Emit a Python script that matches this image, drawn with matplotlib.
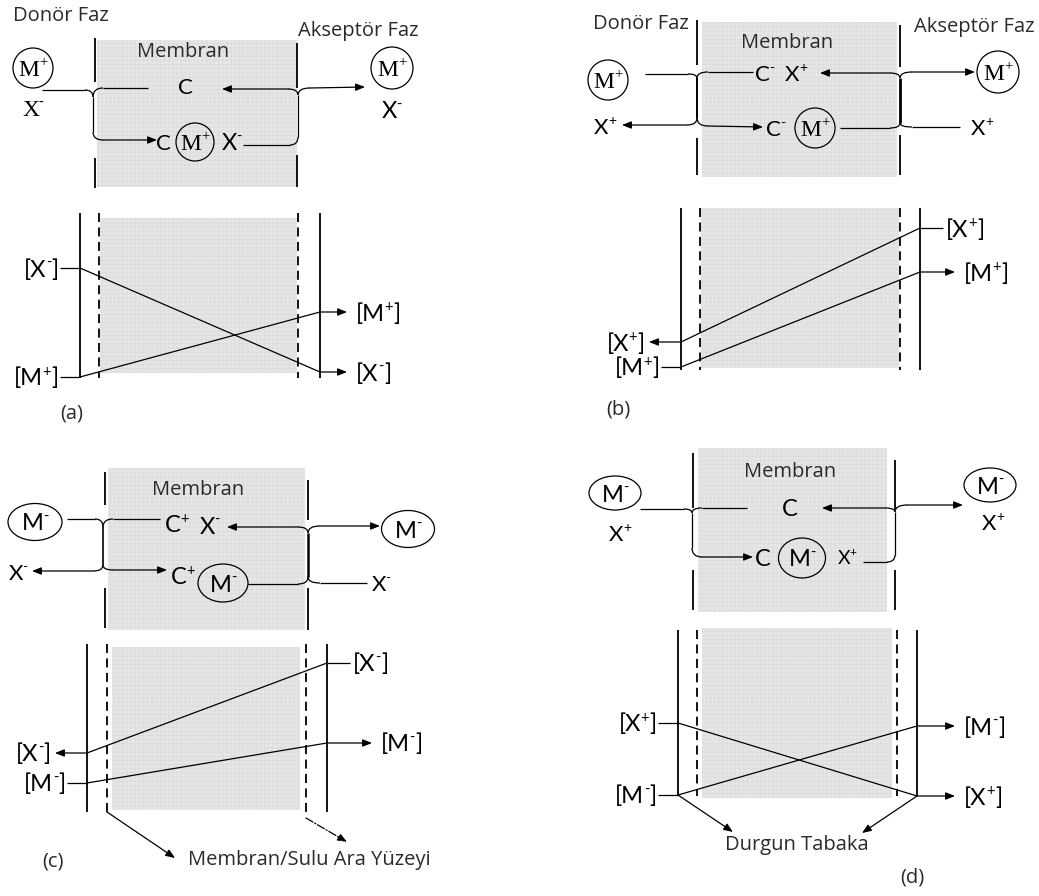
import matplotlib.pyplot as plt
from matplotlib.patches import Rectangle, Ellipse, PathPatch
from matplotlib.path import Path
from matplotlib.font_manager import FontProperties
from matplotlib.textpath import TextToPath

plt.rcParams['hatch.linewidth'] = 0.4

SANS = 'Lato'
SERIF = 'Liberation Serif'
LABEL = 'Open Sans'
PX = 100 / 72  # pixels per point at dpi 100

# concentration profiles: (label, y at donor side, y at acceptor side, arrow side)
prof_a = [('[X^-]', 268, 372, 'right'),
          ('[M^+]', 377, 312, 'right')]
prof_b = [('[X^+]', 342, 228, 'left'),
          ('[M^+]', 367, 272, 'right')]
prof_c = [('[X^-]', 753, 663, 'left'),
          ('[M^-]', 783, 743, 'right')]
prof_d = [('[X^+]', 723, 796, 'right'),
          ('[M^-]', 795, 726, 'right')]

# x of solid / dashed boundaries and top/bottom of each profile box
box_a = dict(xs=(80, 99, 298, 320), y0=213, y1=378, shade=(100, 218, 297, 373))
box_b = dict(xs=(681, 700, 900, 920), y0=208, y1=370, shade=(701, 208, 899, 368))
box_c = dict(xs=(87, 107, 306, 327), y0=644, y1=812, shade=(112, 647, 300, 810))
box_d = dict(xs=(678, 697, 897, 917), y0=630, y1=796, shade=(702, 628, 892, 798))

fig = plt.figure(figsize=(10.39, 8.96), dpi=100)
fig.set_facecolor('white')
ax = fig.add_axes([0, 0, 1, 1])
ax.set_xlim(0, 1039)
ax.set_ylim(896, 0)
ax.axis('off')

ttp = TextToPath()


def line(xs, ys, lw=0.9, ls='-'):
    ax.plot(xs, ys, color='k', lw=lw, ls=ls, solid_capstyle='butt')


def arrow(x0, y0, x1, y1, ls='-'):
    ax.annotate('', xy=(x1, y1), xytext=(x0, y0),
                arrowprops=dict(arrowstyle='-|>,head_length=0.55,head_width=0.22',
                                color='k', lw=0.9, ls=ls, shrinkA=0, shrinkB=0,
                                mutation_scale=10))


def bend(x0, y0, x1, y1, ctrl='v'):
    # 'v' leaves (x0,y0) vertically, 'h' leaves it horizontally
    c = (x0, y1) if ctrl == 'v' else (x1, y0)
    p = Path([(x0, y0), c, (x1, y1)], [Path.MOVETO, Path.CURVE3, Path.CURVE3])
    ax.add_patch(PathPatch(p, fc='none', ec='k', lw=0.9))


def shade(x0, y0, x1, y1):
    ax.add_patch(Rectangle((x0, y0), x1 - x0, y1 - y0, fc='#e6e6e6', ec='none', zorder=0))
    ax.add_patch(Rectangle((x0, y0), x1 - x0, y1 - y0, fc='none', ec='#d9d9d9',
                           lw=0, hatch='++++', zorder=0))


def txt(x, y, s, size=14.5, family=LABEL, ha='center', color='#2a2a2a'):
    ax.text(x, y, s, fontsize=size, family=family, ha=ha, va='center', color=color)


def width(s, size, family):
    w, h, d = ttp.get_text_width_height_descent(s, FontProperties(family=family, size=size),
                                                 ismath=False)
    return w * PX


def chem(x, y, s, size=16, family=SANS, ha='center'):
    # '^' raises the following character as a charge superscript
    pieces = []
    i = 0
    while i < len(s):
        if s[i] == '^':
            pieces.append((s[i + 1], True))
            i += 2
        else:
            if pieces and not pieces[-1][1]:
                pieces[-1] = (pieces[-1][0] + s[i], False)
            else:
                pieces.append((s[i], False))
            i += 1
    ssize = size * 0.62
    ws = [width(p, ssize if sup else size, family) for p, sup in pieces]
    # tighten before a superscript, open up a little after it
    gaps = [(-0.03 if pieces[k + 1][1] else 0.03) * size * PX for k in range(len(pieces) - 1)]
    total = sum(ws) + sum(gaps)
    x0 = {'center': x - total / 2, 'right': x - total, 'left': x}[ha]
    yb = y + 0.36 * size * PX
    for k, ((p, sup), w) in enumerate(zip(pieces, ws)):
        if sup:
            ax.text(x0, yb - 0.42 * size * PX, p, fontsize=ssize, family=family,
                    ha='left', va='baseline')
        else:
            ax.text(x0, yb, p, fontsize=size, family=family, ha='left', va='baseline')
        x0 += w + (gaps[k] if k < len(gaps) else 0)


def ion_circle(x, y, s, w, h, family=SANS, size=15):
    ax.add_patch(Ellipse((x, y), w, h, fc='none', ec='k', lw=0.9))
    chem(x, y, s, size=size, family=family)


def profile_box(box, prof, lbl_right_gap=27):
    xs0, xd0, xd1, xs1 = box['xs']
    shade(*box['shade'])
    line([xs0, xs0], [box['y0'], box['y1']], lw=1.3)
    line([xs1, xs1], [box['y0'], box['y1']], lw=1.3)
    line([xd0, xd0], [box['y0'], box['y1']], lw=1.3, ls=(0, (5, 3)))
    line([xd1, xd1], [box['y0'], box['y1']], lw=1.3, ls=(0, (5, 3)))
    for lab, yl, yr, side in prof:
        line([xs0, xs1], [yl, yr])
        if side == 'right':
            line([xs0 - 20, xs0], [yl, yl])
            chem(xs0 - 21, yl, lab, size=17, ha='right')
            arrow(xs1, yr, xs1 + lbl_right_gap, yr)
            chem(xs1 + lbl_right_gap + 9, yr, lab, size=17, ha='left')
        else:
            arrow(xs0, yl, xs0 - 32, yl)
            chem(xs0 - 36, yl, lab, size=17, ha='right')
            line([xs1, xs1 + 23], [yr, yr])
            chem(xs1 + 26, yr, lab, size=17, ha='left')


# ---------------- (a) ----------------
txt(13, 16, 'Donör Faz', ha='left')
txt(298, 31, 'Akseptör Faz', ha='left')
shade(97, 40, 297, 187)
line([95, 95], [38, 82], lw=1.3); line([95, 95], [158, 188], lw=1.3)
line([297, 297], [43, 88], lw=1.3); line([297, 297], [155, 187], lw=1.3)
txt(183, 52, 'Membran')
ion_circle(33, 68, 'M^+', 40, 40, family=SERIF, size=17)
chem(33, 107, 'X^-', size=17, family=SERIF)
line([42, 85], [90, 90]); bend(85, 90, 93, 97, 'h')
bend(93, 97, 103, 88); line([103, 148], [88, 88])
line([93, 93], [97, 132]); bend(93, 132, 103, 140); arrow(103, 140, 157, 140)
chem(185, 86, 'C', size=16)
bend(298, 95, 288, 89); arrow(288, 89, 222, 89)
bend(298, 95, 310, 88); arrow(310, 88, 365, 87)
line([298, 298], [95, 137])
chem(163, 142, 'C', size=16)
ion_circle(195, 142, 'M^+', 38, 38, family=SERIF, size=17)
chem(232, 142, 'X^-', size=17)
line([243, 290], [145, 145]); bend(290, 145, 298, 137, 'h')
ion_circle(392, 68, 'M^+', 42, 42, family=SERIF, size=17)
chem(392, 110, 'X^-', size=17)

profile_box(box_a, prof_a)
txt(72, 413, '(a)')

# ---------------- (b) ----------------
txt(593, 24, 'Donör Faz', ha='left')
txt(914, 27, 'Akseptör Faz', ha='left')
shade(702, 22, 897, 177)
txt(787, 43, 'Membran')
line([697, 697], [20, 65], lw=1.3); line([697, 697], [138, 175], lw=1.3)
line([900, 900], [25, 67], lw=1.3); line([900, 900], [135, 175], lw=1.3)
line([697, 697], [78, 118], lw=1.4)
line([900, 900], [78, 123], lw=2.0)
ion_circle(608, 80, 'M^+', 40, 40, family=SERIF, size=17)
line([645, 688], [74, 74]); bend(688, 74, 697, 78, 'h')
bend(697, 78, 708, 72); line([708, 753], [72, 72])
chem(765, 73, 'C^-', size=16); chem(796, 73, 'X^+', size=16)
bend(900, 78, 890, 73); arrow(890, 73, 820, 73)
bend(900, 78, 912, 72); arrow(912, 72, 975, 72)
ion_circle(998, 72, 'M^+', 42, 42, family=SERIF, size=17)
chem(605, 126, 'X^+', size=16)
bend(697, 118, 687, 125); arrow(687, 125, 622, 125)
bend(697, 118, 708, 126); arrow(708, 126, 763, 127)
chem(776, 128, 'C^-', size=16)
ion_circle(815, 128, 'M^+', 40, 40, family=SERIF, size=17)
line([840, 890], [128, 128]); bend(890, 128, 900, 123, 'h')
bend(900, 123, 912, 127); line([912, 960], [127, 127])
chem(982, 127, 'X^+', size=16)

profile_box(box_b, prof_b, lbl_right_gap=35)
txt(618, 410, '(b)')

# ---------------- (c) ----------------
shade(108, 468, 305, 630)
line([105, 105], [472, 505], lw=1.3); line([105, 105], [588, 628], lw=1.3)
line([308, 308], [480, 520], lw=1.3); line([308, 308], [588, 630], lw=1.3)
line([103, 103], [527, 565], lw=1.2)
line([308, 308], [533, 577], lw=1.8)
txt(198, 490, 'Membran')
ion_circle(35, 522, 'M^-', 54, 37, size=17)
line([67, 95], [519, 519]); bend(95, 519, 103, 527, 'h')
bend(103, 527, 113, 519); line([113, 160], [519, 519])
chem(177, 524, 'C^+', size=17); chem(210, 525, 'X^-', size=17)
bend(308, 533, 298, 527); arrow(298, 527, 227, 527)
bend(308, 533, 320, 526); arrow(320, 526, 380, 526)
ion_circle(408, 529, 'M^-', 53, 37, size=17)
chem(18, 572, 'X^-', size=16)
bend(103, 565, 93, 571); arrow(93, 571, 32, 571)
bend(103, 565, 113, 570); arrow(113, 570, 167, 570)
chem(183, 576, 'C^+', size=17)
ion_circle(223, 583, 'M^-', 50, 38, size=17)
line([248, 298], [584, 584]); bend(298, 584, 308, 577, 'h')
bend(308, 577, 320, 583); line([320, 367], [583, 583])
chem(381, 583, 'X^-', size=16)

profile_box(box_c, prof_c, lbl_right_gap=45)
arrow(107, 812, 175, 858)
arrow(306, 818, 347, 842, ls='-.')
txt(188, 860, 'Membran/Sulu Ara Yüzeyi', ha='left')
txt(53, 862, '(c)')

# ---------------- (d) ----------------
shade(698, 448, 887, 612)
line([693, 693], [453, 508], lw=1.3); line([693, 693], [570, 610], lw=1.3)
line([895, 895], [460, 510], lw=1.3); line([895, 895], [570, 610], lw=1.3)
txt(790, 472, 'Membran')
ion_circle(615, 493, 'M^-', 52, 34, size=17)
chem(620, 533, 'X^+', size=16)
line([640, 684], [509, 509]); bend(684, 509, 692, 513, 'h')
bend(692, 513, 702, 508); line([702, 747], [508, 508])
chem(790, 508, 'C', size=17)
bend(895, 512, 885, 508); arrow(885, 508, 822, 508)
bend(895, 512, 907, 505); arrow(907, 505, 963, 505)
ion_circle(990, 485, 'M^-', 52, 34, size=17)
chem(993, 522, 'X^+', size=16)
line([692, 692], [513, 548]); bend(692, 548, 702, 557); arrow(702, 557, 753, 557)
chem(763, 557, 'C', size=17)
ion_circle(802, 558, 'M^-', 47, 40, size=17)
chem(847, 557, 'X^+', size=14)
line([863, 887], [562, 562]); bend(887, 562, 895, 555, 'h')
line([895, 895], [512, 555])

profile_box(box_d, prof_d, lbl_right_gap=38)
arrow(678, 795, 733, 832)
arrow(917, 796, 862, 833)
txt(797, 845, 'Durgun Tabaka')
txt(912, 878, '(d)')

fig.savefig('out.png', dpi=100)
